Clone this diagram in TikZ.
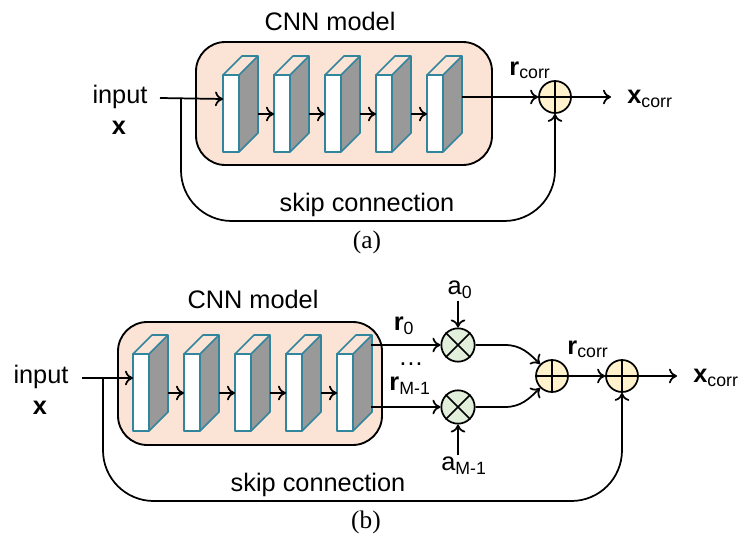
\documentclass[tikz,border=0pt]{standalone}
\usepackage{fontspec}
\setmainfont{Liberation Sans}
\newfontfamily\capfont{Liberation Serif}
\usetikzlibrary{arrows.meta}
\definecolor{boxfill}{RGB}{251,228,213}
\definecolor{layeredge}{RGB}{49,133,156}
\definecolor{sumfill}{RGB}{255,242,204}
\definecolor{mulfill}{RGB}{226,239,218}
\tikzset{
  model/.style={draw, line width=1.4pt, rounded corners=22pt, fill=boxfill},
  sumnode/.style={circle, draw, line width=1.3pt, fill=sumfill, minimum size=24pt, inner sep=0pt},
  mulnode/.style={circle, draw, line width=1.3pt, fill=mulfill, minimum size=25pt, inner sep=0pt},
  lbl/.style={font=\fontsize{19}{21}\selectfont, inner sep=1pt},
  conn/.style={line width=1.3pt, -{To[length=6pt,width=11pt]}},
  edge/.style={layeredge, line width=1.2pt, line join=round}
}
% one conv layer: front face top-left at (#1,#2)
\newcommand{\convlayer}[3]{%
  \fill[gray!80] ({#1+16},#2) -- ({#1+35},{#2-19}) -- ({#1+35},{#2+58}) -- ({#1+16},{#2+77}) -- cycle;
  \draw[edge] (#1,#2) -- ({#1+19},{#2-19}) -- ({#1+35},{#2-19}) -- ({#1+16},#2) -- cycle;
  \draw[edge, fill=white] (#1,#2) rectangle ({#1+16},{#2+77});
  \draw[edge] ({#1+16},{#2+77}) -- ({#1+35},{#2+58}) -- ({#1+35},{#2-19});
  \coordinate (#3in) at (#1,{#2+24});
  \coordinate (#3mid) at (#1,{#2+39});
  \coordinate (#3out) at ({#1+35},{#2+39});
}
\newcommand{\plusmark}[1]{%
  \draw[line width=1.2pt] (#1.north) -- (#1.south) (#1.west) -- (#1.east);}
\newcommand{\timesmark}[1]{%
  \draw[line width=1.2pt] (#1.north west) -- (#1.south east) (#1.north east) -- (#1.south west);}
\begin{document}
\begin{tikzpicture}[x=0.75pt,y=-0.75pt]
\useasboundingbox (0,0) rectangle (746,542);

% ---------- (a) ----------
\node[lbl] (cnnA) at (330,21) {CNN model};
\draw[model] (196,42) rectangle (492,165);
\foreach \i in {1,...,5}{
  \pgfmathsetmacro{\lx}{223+51*(\i-1)}
  \convlayer{\lx}{75}{a\i}
}
\foreach \i [evaluate=\i as \j using int(\i+1)] in {1,...,4}
  \draw[conn] (a\i out) -- (a\j mid);
\node[lbl] (inA) at (120,97) {input};
\node[lbl] (xA) at (119,128) {\textbf{x}};
\coordinate (startA) at (160,98);
\coordinate (splitA) at (181,98);
\coordinate (tailA) at (462,97);
\node[sumnode] (sumA) at (555,97) {};
\plusmark{sumA}
\draw[conn] (startA) -- (a1in);
\draw[conn] (tailA) -- (sumA);
\node[lbl] (rA) at (530,70) {\textbf{r}\textsubscript{corr}};
\node[lbl] (xoutA) at (650,99) {\textbf{x}\textsubscript{corr}};
\coordinate (endA) at (611,97);
\draw[conn] (sumA) -- (endA);
\draw[conn, rounded corners=38pt] (splitA) |- (368,221) -| (sumA.south);
\node[lbl] (skipA) at (367,205) {skip connection};
\node[font=\capfont\fontsize{19}{21}\selectfont] (capA) at (367,242) {(a)};

% ---------- (b) ----------
\node[lbl] (cnnB) at (253,299) {CNN model};
\draw[model] (118,322) rectangle (382,445);
\foreach \i in {1,...,5}{
  \pgfmathsetmacro{\lx}{133+51*(\i-1)}
  \convlayer{\lx}{354}{b\i}
}
\foreach \i [evaluate=\i as \j using int(\i+1)] in {1,...,4}
  \draw[conn] (b\i out) -- (b\j mid);
\node[lbl] (inB) at (41,377) {input};
\node[lbl] (xB) at (40,408) {\textbf{x}};
\coordinate (startB) at (82,378);
\coordinate (splitB) at (103,378);
\node[mulnode] (mul0) at (458,345) {};
\node[mulnode] (mulM) at (458,407) {};
\timesmark{mul0}
\timesmark{mulM}
\node[sumnode] (sum1) at (552,376) {};
\node[sumnode] (sumB) at (622,376) {};
\plusmark{sum1}
\plusmark{sumB}
\draw[conn] (startB) -- (b1in);
\coordinate (r0s) at (371,345);
\coordinate (rMs) at (371,407);
\draw[conn] (r0s) -- (mul0);
\draw[conn] (rMs) -- (mulM);
\node[lbl] (a0) at (460,290) {a\textsubscript{0}};
\node[lbl] (aM) at (464,466) {a\textsubscript{M-1}};
\draw[conn] (a0.south -| mul0) -- (mul0);
\draw[conn] (aM.north -| mulM) -- (mulM);
\node[lbl] (r0) at (404,326) {\textbf{r}\textsubscript{0}};
\node[lbl] (rM) at (410,386) {\textbf{r}\textsubscript{M-1}};
\node[lbl] (dots) at (411,364) {\dots};
\draw[conn] (mul0) -- (505,345) to[out=0,in=135] (sum1.135);
\draw[conn] (mulM) -- (505,407) to[out=0,in=225] (sum1.225);
\draw[conn] (sum1) -- (sumB);
\node[lbl] (rB) at (588,349) {\textbf{r}\textsubscript{corr}};
\coordinate (endB) at (677,376);
\draw[conn] (sumB) -- (endB);
\node[lbl] (xoutB) at (716,378) {\textbf{x}\textsubscript{corr}};
\draw[conn, rounded corners=38pt] (splitB) |- (360,501) -| (sumB.south);
\node[lbl] (skipB) at (318,485) {skip connection};
\node[font=\capfont\fontsize{19}{21}\selectfont] (capB) at (366,522) {(b)};
\end{tikzpicture}
\end{document}
